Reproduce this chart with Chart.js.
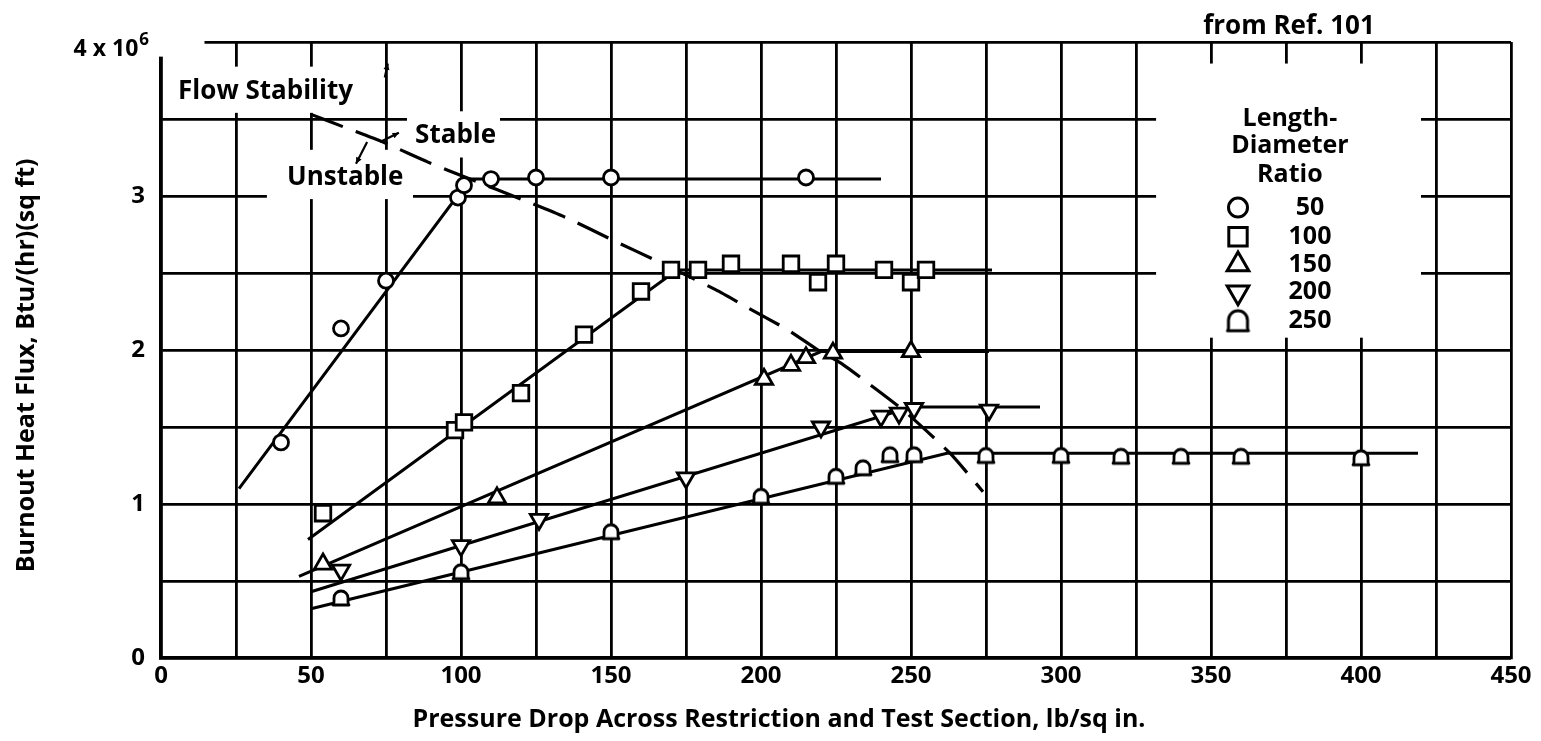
<!DOCTYPE html>
<html>
<head>
<meta charset="utf-8">
<script src="https://cdn.jsdelivr.net/npm/chart.js"></script>
<style>
  html, body { margin: 0; padding: 0; background: #fff; }
  #wrap { width: 1541px; height: 741px; position: relative; }
</style>
</head>
<body>
<div id="wrap"><canvas id="c"></canvas></div>
<script>
// Burnout heat flux (10^6 Btu/(hr)(sq ft)) vs. pressure drop (lb/sq in.)
// for five length-diameter ratios.
const ratioNames = ['50', '100', '150', '200', '250'];

// measured points
const p50  = [40, 60, 75, 99, 101, 110, 125, 150, 215];
const q50  = [1.40, 2.14, 2.45, 2.99, 3.07, 3.11, 3.12, 3.12, 3.12];

const p100 = [54, 98, 101, 120, 141, 160, 170, 179, 190, 210, 219, 225, 241, 250, 255];
const q100 = [0.94, 1.48, 1.53, 1.72, 2.10, 2.38, 2.52, 2.52, 2.56, 2.56, 2.44, 2.56, 2.52, 2.44, 2.52];

const p150 = [54, 112, 201, 210, 215, 224, 250];
const q150 = [0.61, 1.04, 1.81, 1.90, 1.95, 1.98, 1.99];

const p200 = [60, 100, 126, 175, 220, 240, 246, 251, 276];
const q200 = [0.57, 0.73, 0.90, 1.17, 1.50, 1.57, 1.59, 1.62, 1.61];

const p250 = [60, 100, 150, 200, 225, 234, 243, 251, 275, 300, 320, 340, 360, 400];
const q250 = [0.39, 0.56, 0.82, 1.05, 1.18, 1.235, 1.32, 1.32, 1.315, 1.315, 1.31, 1.31, 1.31, 1.30];

// faired curves (rising branch, knee, plateau)
const fitP50  = [26, 103, 240];   const fitQ50  = [1.10, 3.11, 3.11];
const fitP100 = [49, 172, 277];   const fitQ100 = [0.77, 2.52, 2.52];
const fitP150 = [46, 220, 276];   const fitQ150 = [0.53, 1.99, 1.99];
const fitP200 = [50, 250, 293];   const fitQ200 = [0.43, 1.63, 1.63];
const fitP250 = [50, 262, 419];   const fitQ250 = [0.32, 1.33, 1.33];

// flow stability boundary (dashed)
const stabP = [50, 62, 74, 89, 103, 120, 135, 152, 164, 185, 196, 209, 219, 227, 236, 248, 263, 274];
const stabQ = [3.53, 3.44, 3.35, 3.22, 3.11, 2.98, 2.86, 2.70, 2.59, 2.39, 2.27, 2.13, 2.00, 1.91, 1.78, 1.60, 1.33, 1.08];

// axis labelling
const xLabelValues = [0, 50, 100, 150, 200, 250, 300, 350, 400, 450];
const yLabelValues = [0, 1, 2, 3];
const yTopLabel = '4 x 10';
const yTopExp = '6';
const xTitle = 'Pressure Drop Across Restriction and Test Section, lb/sq in.';
const yTitle = 'Burnout Heat Flux, Btu/(hr)(sq ft)';
const sourceNote = 'from Ref. 101';
const legendTitle = ['Length-', 'Diameter', 'Ratio'];
const noteTexts = ['Flow Stability', 'Stable', 'Unstable'];

const FONT = '"Open Sans", "DejaVu Sans", sans-serif';
const INK = '#000';

function pts(xs, ys) { return xs.map((v, i) => ({ x: v, y: ys[i] })); }

// rounded-top "dome" marker used for L/D = 250
function domeMarker(w, h, lw) {
  const c = document.createElement('canvas');
  c.width = Math.ceil(w + lw * 2 + 4);
  c.height = Math.ceil(h + lw * 2 + 4);
  const g = c.getContext('2d');
  const cx = c.width / 2, cy = c.height / 2;
  const r = w / 2;
  const top = cy - h / 2, base = cy + h / 2;
  const arcY = top + r;
  g.lineWidth = lw; g.strokeStyle = INK; g.fillStyle = '#fff';
  g.lineJoin = 'round';
  g.beginPath();
  g.moveTo(cx - r - 1, base);
  g.quadraticCurveTo(cx - r, base - 1, cx - r, base - 3);
  g.lineTo(cx - r, arcY);
  g.arc(cx, arcY, r, Math.PI, 2 * Math.PI, false);
  g.lineTo(cx + r, base - 3);
  g.quadraticCurveTo(cx + r, base - 1, cx + r + 1, base);
  g.closePath();
  g.fill(); g.stroke();
  return c;
}

const domeSmall = domeMarker(14, 14, 2.8);
const domeLarge = domeMarker(19, 20, 3);

const markerStyles = [
  { pointStyle: 'circle',   radius: 7.5, rotation: 0 },
  { pointStyle: 'rect',     radius: 11,  rotation: 0 },
  { pointStyle: 'triangle', radius: 10,  rotation: 0 },
  { pointStyle: 'triangle', radius: 10,  rotation: 180 },
  { pointStyle: domeSmall,  radius: 8,   rotation: 0 }
];
const legendStyles = [
  { pointStyle: 'circle',   radius: 9.5, rotation: 0 },
  { pointStyle: 'rect',     radius: 13,  rotation: 0 },
  { pointStyle: 'triangle', radius: 12.5, rotation: 0 },
  { pointStyle: 'triangle', radius: 12.5, rotation: 180 },
  { pointStyle: domeLarge,  radius: 10,  rotation: 0 }
];

const pointSets = [pts(p50, q50), pts(p100, q100), pts(p150, q150), pts(p200, q200), pts(p250, q250)];
const fitSets = [pts(fitP50, fitQ50), pts(fitP100, fitQ100), pts(fitP150, fitQ150), pts(fitP200, fitQ200), pts(fitP250, fitQ250)];

const datasets = [];
pointSets.forEach((d, i) => {
  const s = markerStyles[i];
  datasets.push({
    label: 'L/D ' + ratioNames[i],
    data: d,
    showLine: false,
    order: 0,
    pointStyle: s.pointStyle,
    pointRadius: s.radius,
    pointRotation: s.rotation,
    pointBorderWidth: 2.8,
    pointBorderColor: INK,
    pointBackgroundColor: '#fff'
  });
});
fitSets.forEach((d, i) => {
  datasets.push({
    label: 'fit ' + ratioNames[i],
    data: d,
    showLine: true,
    order: 1,
    pointRadius: 0,
    borderColor: INK,
    borderWidth: 3,
    tension: 0
  });
});
datasets.push({
  label: 'flow stability',
  data: pts(stabP, stabQ),
  showLine: true,
  order: 2,
  pointRadius: 0,
  borderColor: INK,
  borderWidth: 3.2,
  borderDash: [34, 14],
  borderCapStyle: 'butt',
  tension: 0.2
});

// white panels behind the in-plot texts (data units: x0, x1, y0, y1)
const maskBoxes = [
  [-8, 14.5, 3.905, 4.2],
  [0.8, 69.5, 3.54, 3.84],
  [82, 113, 3.25, 3.55],
  [35.3, 84, 2.98, 3.30],
  [331.7, 420, 2.08, 3.86]
];
const noteAnchors = [[5.7, 3.68], [84.7, 3.39], [42, 3.12]];
const arrows = [
  [73, 3.35, 79.3, 3.41],
  [68.7, 3.35, 65, 3.21],
  [74.6, 3.77, 75.6, 3.86]
];

function arrow(ctx, x0, y0, x1, y1) {
  const a = Math.atan2(y1 - y0, x1 - x0);
  const L = 7;
  ctx.beginPath();
  ctx.moveTo(x0, y0); ctx.lineTo(x1, y1); ctx.stroke();
  ctx.beginPath();
  ctx.moveTo(x1, y1);
  ctx.lineTo(x1 - L * Math.cos(a - 0.45), y1 - L * Math.sin(a - 0.45));
  ctx.lineTo(x1 - L * Math.cos(a + 0.45), y1 - L * Math.sin(a + 0.45));
  ctx.closePath(); ctx.fill();
}

const notesPlugin = {
  id: 'notes',
  beforeDatasetsDraw(chart) {
    const { ctx, scales: { x, y } } = chart;
    ctx.save();
    ctx.fillStyle = '#fff';
    for (const b of maskBoxes) {
      const x0 = x.getPixelForValue(b[0]), x1 = x.getPixelForValue(b[1]);
      const y0 = y.getPixelForValue(b[2]), y1 = y.getPixelForValue(b[3]);
      ctx.fillRect(Math.min(x0, x1), Math.min(y0, y1), Math.abs(x1 - x0), Math.abs(y1 - y0));
    }
    ctx.restore();
  },
  afterDatasetsDraw(chart) {
    const { ctx, scales: { x, y } } = chart;
    const X = v => x.getPixelForValue(v), Y = v => y.getPixelForValue(v);
    ctx.save();
    ctx.fillStyle = INK; ctx.strokeStyle = INK;
    ctx.textBaseline = 'middle';

    // in-plot notes
    ctx.font = 'bold 26px ' + FONT;
    ctx.textAlign = 'left';
    noteTexts.forEach((t, i) => ctx.fillText(t, X(noteAnchors[i][0]), Y(noteAnchors[i][1])));
    ctx.lineWidth = 2.2;
    arrows.forEach(a => arrow(ctx, X(a[0]), Y(a[1]), X(a[2]), Y(a[3])));

    // top y label with exponent
    ctx.textAlign = 'right';
    const rx = x.left - 12, ty = Y(4) + 7;
    ctx.font = 'bold 17px ' + FONT;
    const ew = ctx.measureText(yTopExp).width;
    ctx.fillText(yTopExp, rx, ty - 9);
    ctx.font = 'bold 23px ' + FONT;
    ctx.fillText(yTopLabel, rx - ew - 1, ty);

    // source note
    ctx.font = 'bold 26px ' + FONT;
    ctx.textAlign = 'center';
    ctx.fillText(sourceNote, X(376), Y(4.10));

    // legend
    ctx.font = 'bold 25px ' + FONT;
    const lt = [3.50, 3.325, 3.14];
    legendTitle.forEach((t, i) => ctx.fillText(t, X(376.3), Y(lt[i])));
    const ly = [2.925, 2.735, 2.555, 2.375, 2.19];
    ratioNames.forEach((n, i) => {
      const s = legendStyles[i];
      ctx.save();
      ctx.lineWidth = 3; ctx.strokeStyle = INK; ctx.fillStyle = '#fff';
      Chart.helpers.drawPoint(ctx, { pointStyle: s.pointStyle, rotation: s.rotation, radius: s.radius, borderWidth: 3 }, X(359), Y(ly[i]));
      ctx.restore();
      ctx.fillStyle = INK;
      ctx.textAlign = 'center';
      ctx.fillText(n, X(383), Y(ly[i]));
    });

    // axis titles
    ctx.font = 'bold 25px ' + FONT;
    ctx.textAlign = 'center';
    ctx.fillText(xTitle, X(206), chart.height - 21);
    ctx.translate(27, Y(1.90));
    ctx.rotate(-Math.PI / 2);
    ctx.fillText(yTitle, 0, 0);
    ctx.restore();
  }
};

new Chart(document.getElementById('c'), {
  type: 'scatter',
  data: { datasets },
  options: {
    responsive: true,
    maintainAspectRatio: false,
    animation: false,
    layout: { padding: { left: 0, top: 42, right: 30, bottom: 0 } },
    plugins: { legend: { display: false }, tooltip: { enabled: false } },
    scales: {
      x: {
        type: 'linear', min: 0, max: 450,
        afterFit: s => { s.height = 83; },
        ticks: {
          stepSize: 25, autoSkip: false, maxRotation: 0, padding: 4,
          color: INK, font: { family: FONT, size: 24, weight: 'bold' },
          callback: v => xLabelValues.includes(v) ? String(v) : ''
        },
        grid: { color: INK, lineWidth: 2.8, drawTicks: false },
        border: { display: true, color: INK, width: 3.2 }
      },
      y: {
        type: 'linear', min: 0, max: 4,
        afterFit: s => { s.width = 161; },
        ticks: {
          stepSize: 0.5, autoSkip: false, padding: 16,
          color: INK, font: { family: FONT, size: 24, weight: 'bold' },
          callback: v => yLabelValues.includes(v) ? String(v) : ''
        },
        grid: { color: INK, lineWidth: 2.8, drawTicks: false },
        border: { display: true, color: INK, width: 3.2 }
      }
    }
  },
  plugins: [notesPlugin]
});
</script>
</body>
</html>
